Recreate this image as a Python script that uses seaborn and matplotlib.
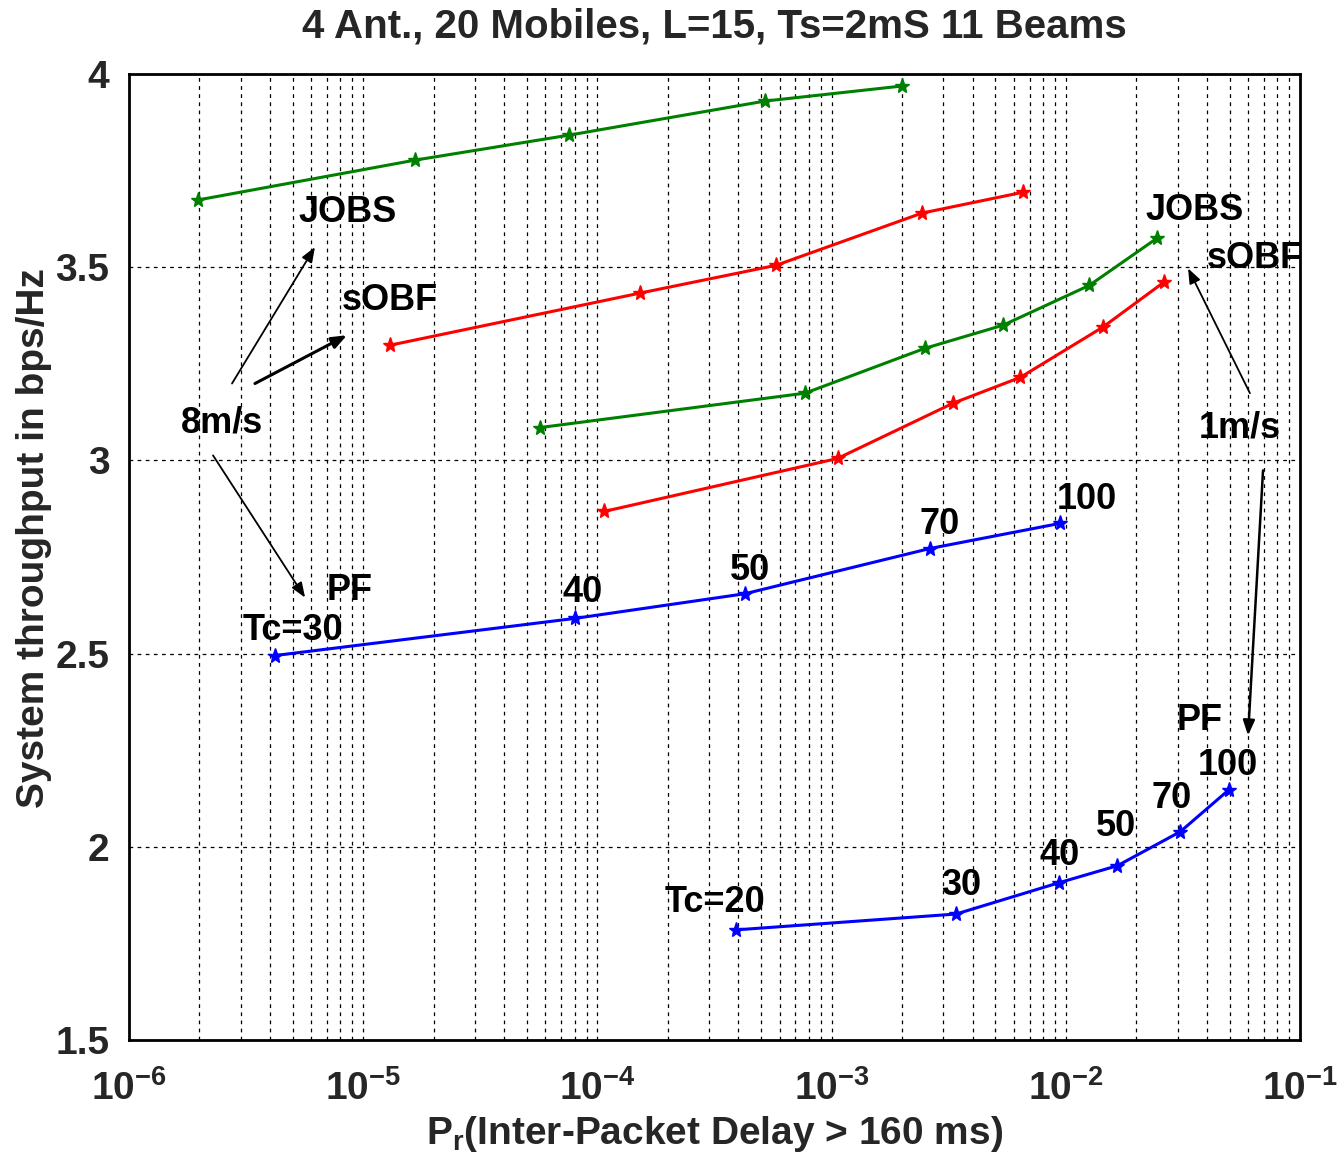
import numpy as np
import pandas as pd
import matplotlib
matplotlib.use("Agg")
import matplotlib.pyplot as plt
import seaborn as sns

# ---- data ----
jobs8_x = [1.97e-6, 1.66e-5, 7.6e-5, 5.2e-4, 2.0e-3]
jobs8_y = [3.674, 3.777, 3.842, 3.930, 3.969]

sobf8_x = [1.3e-5, 1.52e-4, 5.8e-4, 2.43e-3, 6.56e-3]
sobf8_y = [3.298, 3.433, 3.505, 3.640, 3.694]

jobs1_x = [5.69e-5, 7.7e-4, 2.5e-3, 5.4e-3, 1.26e-2, 2.45e-2]
jobs1_y = [3.085, 3.174, 3.290, 3.350, 3.453, 3.575]

sobf1_x = [1.07e-4, 1.06e-3, 3.3e-3, 6.4e-3, 1.44e-2, 2.62e-2]
sobf1_y = [2.868, 3.005, 3.148, 3.215, 3.345, 3.461]

pf8_x = [4.2e-6, 8.0e-5, 4.27e-4, 2.63e-3, 9.44e-3]
pf8_y = [2.495, 2.591, 2.655, 2.772, 2.837]

pf1_x = [3.91e-4, 3.4e-3, 9.35e-3, 1.66e-2, 3.08e-2, 4.98e-2]
pf1_y = [1.785, 1.826, 1.907, 1.951, 2.039, 2.148]

series_names = ["JOBS 8m/s", "sOBF 8m/s", "JOBS 1m/s", "sOBF 1m/s", "PF 8m/s", "PF 1m/s"]
series_colors = ["#008000", "#ff0000", "#008000", "#ff0000", "#0000ff", "#0000ff"]

title = "4 Ant., 20 Mobiles, L=15, Ts=2mS 11 Beams"
xlabel = r"P$_\mathregular{r}$(Inter-Packet Delay > 160 ms)"
ylabel = "System throughput in bps/Hz"
yticks = [1.5, 2, 2.5, 3, 3.5, 4]
ytick_labels = ["1.5", "2", "2.5", "3", "3.5", "4"]
xticks = [1e-6, 1e-5, 1e-4, 1e-3, 1e-2, 1e-1]

# ---- build table ----
xs = [jobs8_x, sobf8_x, jobs1_x, sobf1_x, pf8_x, pf1_x]
ys = [jobs8_y, sobf8_y, jobs1_y, sobf1_y, pf8_y, pf1_y]
frames = []
for n, x, y in zip(series_names, xs, ys):
    frames.append(pd.DataFrame({"x": x, "y": y, "series": n}))
df = pd.concat(frames, ignore_index=True)

sns.set_style("white")
plt.rcParams["font.family"] = ["Liberation Sans", "DejaVu Sans"]
plt.rcParams["mathtext.fontset"] = "custom"
plt.rcParams["mathtext.rm"] = "Liberation Sans:bold"
plt.rcParams["mathtext.it"] = "Liberation Sans:bold"
plt.rcParams["mathtext.bf"] = "Liberation Sans:bold"

fig = plt.figure(figsize=(13.39, 11.62), dpi=100)
ax = fig.add_axes([0.0963, 0.105, 0.8746, 0.8313])

sns.lineplot(data=df, x="x", y="y", hue="series", units="series", estimator=None,
             palette=dict(zip(series_names, series_colors)), hue_order=series_names,
             marker="*", markersize=11, markeredgewidth=1.0, linewidth=2.2,
             sort=False, legend=False, ax=ax)
for line, c in zip(ax.get_lines(), series_colors):
    line.set_markeredgecolor(c)
    line.set_markerfacecolor(c)

ax.set_xscale("log")
ax.set_xlim(1e-6, 1e-1)
ax.set_ylim(1.5, 4)
ax.set_xticks(xticks)
ax.set_xticklabels([r"10$^{%d}$" % int(np.log10(t)) for t in xticks])
ax.set_yticks(yticks)
ax.set_yticklabels(ytick_labels)
ax.xaxis.set_minor_locator(matplotlib.ticker.LogLocator(base=10, subs=np.arange(2, 10)))
ax.xaxis.set_minor_formatter(matplotlib.ticker.NullFormatter())

ax.grid(True, which="major", axis="both", color="black", linestyle=(0, (3, 3.5)), linewidth=0.9)
ax.grid(True, which="minor", axis="x", color="black", linestyle=(0, (3, 3.5)), linewidth=0.9)
ax.set_axisbelow(True)
for s in ax.spines.values():
    s.set_color("black")
    s.set_linewidth(2.0)
ax.tick_params(axis="y", which="major", labelsize=28, length=0, pad=14)
ax.tick_params(axis="x", which="major", labelsize=28, length=0, pad=22)
ax.tick_params(axis="both", which="minor", length=0)
for lab in ax.get_yticklabels() + ax.get_xticklabels():
    lab.set_fontweight("bold")

ax.set_title(title, fontsize=29, fontweight="bold", pad=26)
ax.set_xlabel(xlabel, fontsize=28, fontweight="bold", labelpad=4)
ax.set_ylabel(ylabel, fontsize=28, fontweight="bold")
ax.yaxis.set_label_coords(-0.066, 0.52)

# ---- annotations ----
tk = dict(fontsize=26, fontweight="bold", ha="center", va="center", color="black")
def L(e):
    return 10 ** e

texts = [
    ("JOBS", -5.065, 3.642), ("sOBF", -4.886, 3.415), ("8m/s", -5.603, 3.098),
    ("PF", -5.056, 2.663), ("Tc=30", -5.300, 2.560), ("40", -4.061, 2.658),
    ("50", -3.348, 2.715), ("70", -2.537, 2.834), ("100", -1.910, 2.899),
    ("JOBS", -1.448, 3.648), ("sOBF", -1.192, 3.523), ("1m/s", -1.256, 3.083),
    ("PF", -1.427, 2.326), ("100", -1.307, 2.210), ("70", -1.547, 2.124),
    ("50", -1.786, 2.052), ("40", -2.025, 1.977), ("30", -2.447, 1.899),
    ("Tc=20", -3.498, 1.857),
]
for t, lx, yy in texts:
    ax.text(L(lx), yy, t, clip_on=False, **tk)

arrows = [
    ((-5.560, 3.199), (-5.206, 3.552), 1.3),
    ((-5.462, 3.199), (-5.069, 3.324), 2.2),
    ((-5.641, 3.013), (-5.248, 2.645), 1.3),
    ((-1.214, 3.174), (-1.478, 3.497), 1.3),
    ((-1.158, 2.974), (-1.222, 2.288), 1.8),
]
for (tx, ty), (hx, hy), lw in arrows:
    ax.annotate("", xy=(L(hx), hy), xytext=(L(tx), ty),
                arrowprops=dict(arrowstyle="-|>,head_length=0.9,head_width=0.35",
                                color="black", lw=lw, shrinkA=0, shrinkB=0))

fig.savefig("out.png", dpi=100, facecolor="white")
